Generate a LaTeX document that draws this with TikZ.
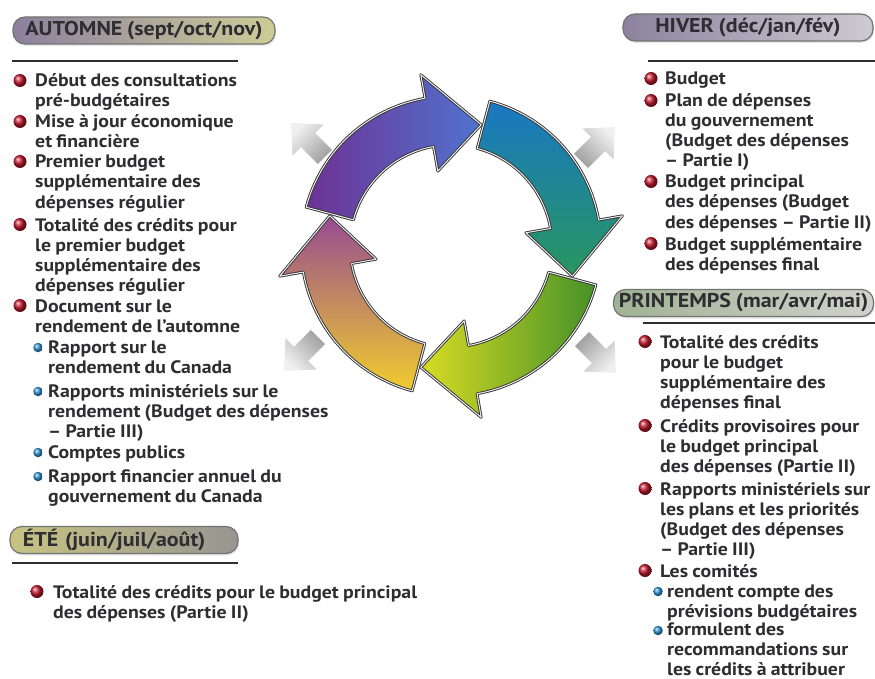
\documentclass[tikz,border=0pt]{standalone}
\usepackage{fontspec}
\setmainfont{PT Sans}[FakeStretch=1.1, WordSpace=0.85]
\usetikzlibrary{shapes, arrows.meta, positioning, calc, shadows}

\definecolor{encre}{RGB}{45, 45, 50}
\definecolor{rougepuce}{RGB}{195, 25, 45}
\definecolor{bleupuce}{RGB}{45, 145, 215}
\definecolor{automne}{RGB}{140, 128, 158}
\definecolor{automnedroite}{RGB}{205, 205, 150}
\definecolor{hiver}{RGB}{140, 130, 158}
\definecolor{hiverdroite}{RGB}{205, 203, 210}
\definecolor{printemps}{RGB}{160, 178, 148}
\definecolor{printempsdroite}{RGB}{210, 210, 205}
\definecolor{ete}{RGB}{200, 195, 130}
\definecolor{etedroite}{RGB}{150, 150, 145}
\definecolor{violet}{RGB}{110, 50, 150}
\definecolor{bleuroi}{RGB}{80, 115, 205}
\definecolor{bleuciel}{RGB}{25, 120, 195}
\definecolor{vertemeraude}{RGB}{40, 150, 95}
\definecolor{vertprairie}{RGB}{70, 145, 40}
\definecolor{jaunevert}{RGB}{215, 220, 35}
\definecolor{jauneor}{RGB}{240, 205, 45}
\definecolor{ocre}{RGB}{205, 150, 85}
\definecolor{mauve}{RGB}{150, 75, 145}

\begin{document}
\begin{tikzpicture}[
  x=1pt, y=-1pt,
  saison/.style={draw=black!55, line width=1.2pt, rounded corners=12pt, minimum height=27pt,
    inner sep=0pt, font=\fontsize{20}{22}\selectfont\bfseries, text=encre,
    drop shadow={opacity=.2, shadow xshift=1pt, shadow yshift=-2pt}},
  item/.style={anchor=base west, align=left, inner sep=0pt,
    font=\fontsize{18}{20}\selectfont\bfseries, text=encre},
  puce/.style={circle, inner sep=0pt, minimum size=13pt, ball color=rougepuce},
  souspuce/.style={circle, inner sep=0pt, minimum size=9.5pt, ball color=bleupuce},
  soulign/.style={line width=2pt, encre},
  fleche/.style={draw=black!80, line width=.9pt, double=white!85!gray, double distance=1pt, line join=round},
  grise/.style={top color=gray!12, bottom color=gray!75, draw=none}
]
  \useasboundingbox (0,0) rectangle (875,679);

  % Cycle
  \begin{scope}[shift={(451,246)}, y=1pt]
    \shade[fleche, left color=violet, right color=bleuroi]
      (165:150) arc[start angle=165, end angle=100, radius=150] -- (100:174) -- (76:125)
      -- (100:76) -- (100:101) arc[start angle=100, end angle=165, radius=101] -- cycle;
    \shade[fleche, top color=bleuciel, bottom color=vertemeraude]
      (75:150) arc[start angle=75, end angle=10, radius=150] -- (10:174) -- (-14:125)
      -- (10:76) -- (10:101) arc[start angle=10, end angle=75, radius=101] -- cycle;
    \shade[fleche, left color=jaunevert, right color=vertprairie]
      (-15:150) arc[start angle=-15, end angle=-80, radius=150] -- (-80:174) -- (-104:125)
      -- (-80:76) -- (-80:101) arc[start angle=-80, end angle=-15, radius=101] -- cycle;
    \shade[fleche, top color=mauve, middle color=ocre, bottom color=jauneor]
      (255:150) arc[start angle=255, end angle=190, radius=150] -- (190:174) -- (166:125)
      -- (190:76) -- (190:101) arc[start angle=190, end angle=255, radius=101] -- cycle;
  \end{scope}

  % Gray arrows
  \begin{scope}[shift={(308,140)}, rotate=135]
    \shade[grise, shading angle=45] (-24,-10) -- (0,-10) -- (0,-22) -- (24,0) -- (0,22) -- (0,10) -- (-24,10) -- cycle;
  \end{scope}
  \begin{scope}[shift={(598,144)}, rotate=45]
    \shade[grise, shading angle=-45] (-24,-10) -- (0,-10) -- (0,-22) -- (24,0) -- (0,22) -- (0,10) -- (-24,10) -- cycle;
  \end{scope}
  \begin{scope}[shift={(301,354)}, rotate=225]
    \shade[grise, shading angle=135] (-24,-10) -- (0,-10) -- (0,-22) -- (24,0) -- (0,22) -- (0,10) -- (-24,10) -- cycle;
  \end{scope}
  \begin{scope}[shift={(599,356)}, rotate=-45]
    \shade[grise, shading angle=-135] (-24,-10) -- (0,-10) -- (0,-22) -- (24,0) -- (0,22) -- (0,10) -- (-24,10) -- cycle;
  \end{scope}

  % Headers
  \node[saison, left color=automne, right color=automnedroite, minimum width=262pt] (automne) at (144,30.5) {AUTOMNE (sept/oct/nov)};
  \node[saison, left color=hiver, right color=hiverdroite, minimum width=250pt] (hiver) at (748,27.5) {HIVER (déc/jan/fév)};
  \node[saison, left color=printemps, right color=printempsdroite, minimum width=260pt] (printemps) at (743.5,303) {PRINTEMPS (mar/avr/mai)};
  \node[saison, left color=ete, right color=etedroite, minimum width=228pt, text width=202pt, align=left] (ete) at (124,540) {ÉTÉ (juin/juil/août)};

  \draw[soulign] (12,61) -- (238,61);
  \draw[soulign] (12,563) -- (238,563);
  \draw[soulign] (648,61) -- (875,61);
  \draw[soulign] (643,323) -- (875,323);

  % Automne (nodes sit on the baseline of their last line)
  \node[item] (a1) at (35,107) {Début des consultations\\pré-budgétaires};
  \node[item] (a2) at (35,148) {Mise à jour économique\\et financière};
  \node[item] (a3) at (35,208) {Premier budget\\supplémentaire des\\dépenses régulier};
  \node[item] (a4) at (35,291) {Totalité des crédits pour\\le premier budget\\supplémentaire des\\dépenses régulier};
  \node[item] (a5) at (35,332) {Document sur le\\rendement de l’automne};
  \node[puce] (pa1) at (20,80.5) {};
  \node[puce] (pa2) at (20,121.5) {};
  \node[puce] (pa3) at (20,161.5) {};
  \node[puce] (pa4) at (20,224.5) {};
  \node[puce] (pa5) at (20,305.5) {};

  \node[item] (s1) at (48,373) {Rapport sur le\\rendement du Canada};
  \node[item] (s2) at (48,437) {Rapports ministériels sur le\\rendement (Budget des dépenses\\– Partie III)};
  \node[item] (s3) at (48,458) {Comptes publics};
  \node[item] (s4) at (48,502) {Rapport financier annuel du\\gouvernement du Canada};
  \node[souspuce] (ps1) at (38,347.5) {};
  \node[souspuce] (ps2) at (38,391.5) {};
  \node[souspuce] (ps3) at (38,452.5) {};
  \node[souspuce] (ps4) at (38,476.5) {};

  % Ete
  \node[item] (e1) at (53,618) {Totalité des crédits pour le budget principal\\des dépenses (Partie II)};
  \node[puce] (pe1) at (37,591.5) {};

  % Hiver
  \node[item] (h1) at (665,85) {Budget};
  \node[item] (h2) at (665,167) {Plan de dépenses\\du gouvernement\\(Budget des dépenses\\– Partie I)};
  \node[item] (h3) at (665,228) {Budget principal\\des dépenses (Budget\\des dépenses – Partie II)};
  \node[item] (h4) at (665,270) {Budget supplémentaire\\des dépenses final};
  \node[puce] (ph1) at (651,78.5) {};
  \node[puce] (ph2) at (651,100.5) {};
  \node[puce] (ph3) at (651,181.5) {};
  \node[puce] (ph4) at (651,243.5) {};

  % Printemps
  \node[item] (r1) at (660,408) {Totalité des crédits\\pour le budget\\supplémentaire des\\dépenses final};
  \node[item] (r2) at (660,472) {Crédits provisoires pour\\le budget principal\\des dépenses (Partie II)};
  \node[item] (r3) at (660,555) {Rapports ministériels sur\\les plans et les priorités\\(Budget des dépenses\\– Partie III)};
  \node[item] (r4) at (660,577) {Les comités};
  \node[puce] (pr1) at (645,341.5) {};
  \node[puce] (pr2) at (645,425.5) {};
  \node[puce] (pr3) at (645,488.5) {};
  \node[puce] (pr4) at (645,570.5) {};

  \node[item] (t1) at (667,617) {rendent compte des\\prévisions budgétaires};
  \node[item] (t2) at (667,675) {formulent des\\recommandations sur\\les crédits à attribuer};
  \node[souspuce] (pt1) at (658,591.5) {};
  \node[souspuce] (pt2) at (658,630.5) {};
\end{tikzpicture}
\end{document}
